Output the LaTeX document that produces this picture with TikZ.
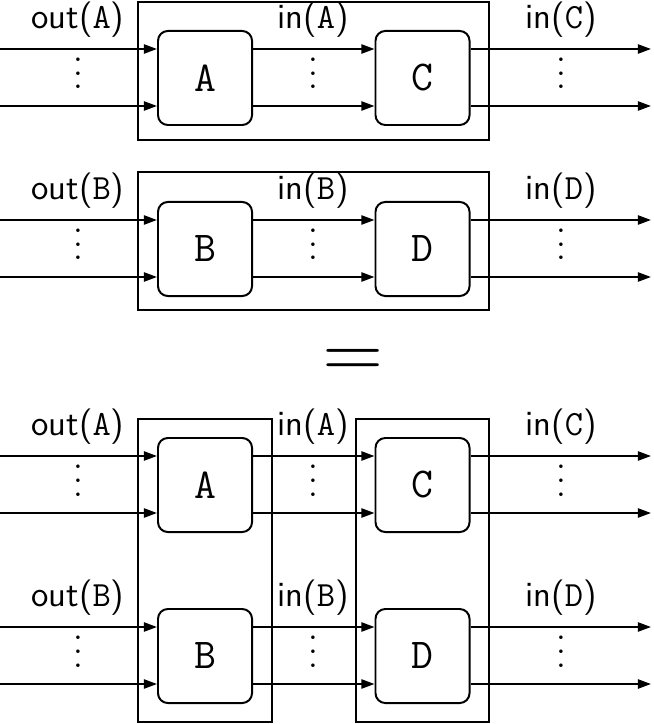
\documentclass[tikz,border=0pt]{standalone}
\usepackage{tikz}
\usetikzlibrary{arrows.meta, positioning, calc}
\newcommand{\dotcolumn}{\vbox{\baselineskip5.5pt\lineskiplimit0pt
  \hbox{\scalebox{1.35}{.}}\hbox{\scalebox{1.35}{.}}\hbox{\scalebox{1.35}{.}}}}

\begin{document}
\begin{tikzpicture}[
  x=0.014286cm, y=-0.014286cm,
  blockbox/.style={rectangle, rounded corners=4pt, draw, thick, minimum width=1.343cm,
    minimum height=1.343cm, font=\LARGE\ttfamily},
  frame/.style={draw, thick},
  portlabel/.style={font=\Large\sffamily, anchor=base},
  dotsnode/.style={anchor=base, inner sep=0pt},
  arrow/.style={-{Triangle[length=5.3pt, width=3.7pt]}, thick}
]
\useasboundingbox (0,0) rectangle (653,724);

% Rows of blocks: A -> C and B -> D, twice
\foreach \off/\l/\r/\n in {0/A/C/1, 171/B/D/2, 407/A/C/3, 578/B/D/4} {
  \node[blockbox] (L\n) at (205,78+\off) {\l};
  \node[blockbox] (R\n) at (422.5,78+\off) {\r};
  \coordinate (in\n a) at (0,49+\off);
  \coordinate (in\n b) at (0,106+\off);
  \coordinate (out\n a) at (651,49+\off);
  \coordinate (out\n b) at (651,106+\off);

  % Wires
  \draw[arrow] (in\n a) -- (in\n a -| L\n.west);
  \draw[arrow] (in\n b) -- (in\n b -| L\n.west);
  \draw[arrow] (in\n a -| L\n.east) -- (in\n a -| R\n.west);
  \draw[arrow] (in\n b -| L\n.east) -- (in\n b -| R\n.west);
  \draw[arrow] (out\n a -| R\n.east) -- (out\n a);
  \draw[arrow] (out\n b -| R\n.east) -- (out\n b);

  % Labels over the wires
  \node[portlabel] (lin\n) at (78,28.5+\off) {out(\texttt{\l})};
  \node[portlabel] (lmid\n) at (313,28.5+\off) {in(\texttt{\l})};
  \node[portlabel] (lout\n) at (561,28.5+\off) {in(\texttt{\r})};
  \node[dotsnode] (din\n) at (78,89+\off) {\dotcolumn};
  \node[dotsnode] (dmid\n) at (313,89+\off) {\dotcolumn};
  \node[dotsnode] (dout\n) at (561,89+\off) {\dotcolumn};
}

% Frames
\draw[frame] (138,2) rectangle (489,140);
\draw[frame] (138,172) rectangle (489,310);
\draw[frame] (138,419) rectangle (272,722);
\draw[frame] (356,419) rectangle (489,722);

% Equals sign
\node[anchor=base, inner sep=0pt] (eq) at (353.5,376.3) {\scalebox{3.2}[3]{$=$}};

\end{tikzpicture}
\end{document}
